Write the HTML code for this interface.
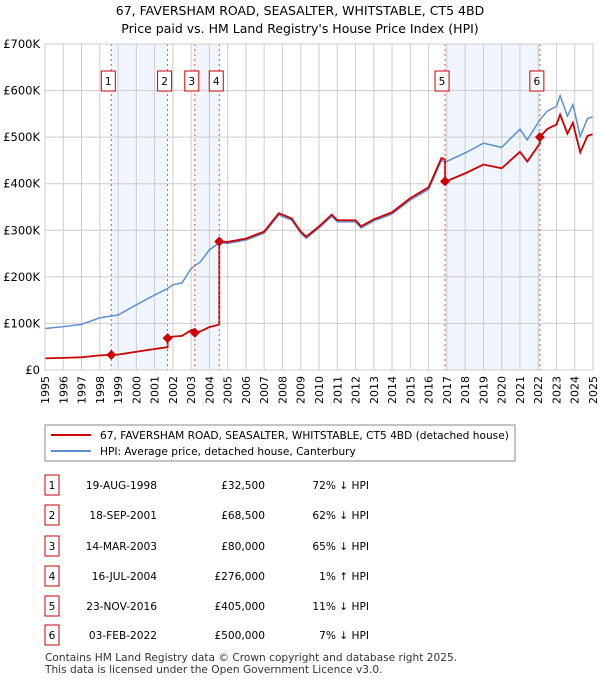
<!DOCTYPE html>
<html><head><meta charset="utf-8"><style>
body{margin:0;background:#fff;font-family:"DejaVu Sans","Liberation Sans",sans-serif;}
svg text{font-family:"DejaVu Sans","Liberation Sans",sans-serif;}
</style></head><body>
<svg id="c" width="600" height="680" viewBox="0 0 600 680" xmlns="http://www.w3.org/2000/svg">
<text x="300" y="15" text-anchor="middle" font-size="12.5">67, FAVERSHAM ROAD, SEASALTER, WHITSTABLE, CT5 4BD</text>
<text x="300" y="33" text-anchor="middle" font-size="12.5">Price paid vs. HM Land Registry's House Price Index (HPI)</text>
<g id="plot"></g>
<rect x="45" y="425" width="470" height="36" fill="#fff" stroke="#888"/>
<g><line x1="51" y1="435" x2="91" y2="435" stroke="#cc0000" stroke-width="2"/><text x="100" y="439" font-size="10.6">67, FAVERSHAM ROAD, SEASALTER, WHITSTABLE, CT5 4BD (detached house)</text></g>
<g><line x1="51" y1="451" x2="91" y2="451" stroke="#5b8fd0" stroke-width="2"/><text x="100" y="455" font-size="10.6">HPI: Average price, detached house, Canterbury</text></g>
<g id="table"></g>
<text x="45" y="661" font-size="10.6" fill="#333">Contains HM Land Registry data © Crown copyright and database right 2025.</text>
<text x="45" y="673" font-size="10.6" fill="#333">This data is licensed under the Open Government Licence v3.0.</text>
</svg>
<script>
const hpiYears=[1995,1996,1997,1998,1998.63,1999,2000,2001,2001.71,2002,2002.5,2003,2003.2,2003.5,2004,2004.54,2005,2006,2007,2007.8,2008.5,2009,2009.3,2010,2010.7,2011,2012,2012.3,2013,2014,2015,2016,2016.7,2016.9,2017,2018,2019,2020,2021,2021.4,2022.09,2022.5,2023,2023.2,2023.6,2023.9,2024.3,2024.7,2025];
const hpiValues=[89,93,98,112,116,118,140,161,175,183,187,218,224,232,258,273,272,279,294,333,322,294,283,305,330,318,318,305,320,335,365,388,450,447,448,466,487,478,517,494,537,556,566,589,545,570,502,540,544];
const saleYears=[1998.63,2001.71,2003.2,2004.54,2016.9,2022.09];
const salePrices=[32.5,68.5,80,276,405,500];
const saleLabels=["1","2","3","4","5","6"];
const saleDates=["19-AUG-1998","18-SEP-2001","14-MAR-2003","16-JUL-2004","23-NOV-2016","03-FEB-2022"];
const salePriceText=["£32,500","£68,500","£80,000","£276,000","£405,000","£500,000"];
const saleHpiText=["72% ↓ HPI","62% ↓ HPI","65% ↓ HPI","1% ↑ HPI","11% ↓ HPI","7% ↓ HPI"];
const yTicks=[0,100,200,300,400,500,600,700];
const yTickLabels=["£0","£100K","£200K","£300K","£400K","£500K","£600K","£700K"];

const NS="http://www.w3.org/2000/svg";
const X0=45,X1=593,Y0=370,Y1=44;
const xs=t=>X0+(t-1995)/30*(X1-X0);
const ys=v=>Y0-v/700*(Y0-Y1);
function mk(tag,attrs,parent){const e=document.createElementNS(NS,tag);for(const k in attrs)e.setAttribute(k,attrs[k]);parent.appendChild(e);return e;}
function hpiAt(t){for(let i=1;i<hpiYears.length;i++){if(t<=hpiYears[i]){const a=hpiYears[i-1],b=hpiYears[i];return hpiValues[i-1]+(hpiValues[i]-hpiValues[i-1])*(t-a)/(b-a);}}return hpiValues[hpiValues.length-1];}
const plot=document.getElementById('plot');
for(let i=0;i+1<saleYears.length;i+=2){
 const r=mk('rect',{x:xs(saleYears[i]),y:Y1,width:xs(saleYears[i+1])-xs(saleYears[i]),height:Y0-Y1,fill:'#eef3fc',opacity:0.8},plot);
 
 
}
for(let y=1995;y<=2025;y++){
 const l=mk('line',{x1:xs(y),x2:xs(y),y1:Y1,y2:Y0,stroke:'#ccc','stroke-width':1},plot);
 
 
 const t=mk('text',{x:0,y:0,'font-size':11,'text-anchor':'end',transform:`translate(${xs(y)+4},376) rotate(-90)`},plot);
 t.textContent=String(y);
 
 
}
yTicks.forEach((v,i)=>{
 const l=mk('line',{x1:X0,x2:X1,y1:ys(v),y2:ys(v),stroke:'#ccc','stroke-width':1},plot);
 
 
 const t=mk('text',{x:40,y:ys(v)+4,'font-size':11.5,'text-anchor':'end'},plot);
 t.textContent=yTickLabels[i];
 
 
});
const hp=mk('polyline',{points:hpiYears.map((t,i)=>xs(t)+','+ys(hpiValues[i])).join(' '),fill:'none',stroke:'#5b8fd0','stroke-width':1.5},plot);


const pts=[];
const times=[...new Set([...hpiYears,...saleYears])].sort((a,b)=>a-b);
times.forEach(t=>{
 let idx=-1;for(let j=0;j<saleYears.length;j++)if(saleYears[j]<=t)idx=j;
 if(saleYears.includes(t)&&idx>0){const p=idx-1;pts.push([t,salePrices[p]*hpiAt(t)/hpiAt(saleYears[p])]);}
 const s=Math.max(idx,0);
 pts.push([t,salePrices[s]*hpiAt(t)/hpiAt(saleYears[s])]);
});
const rl=mk('polyline',{points:pts.map(p=>xs(p[0])+','+ys(p[1])).join(' '),fill:'none',stroke:'#cc0000','stroke-width':1.8},plot);


saleYears.forEach((t,i)=>{
 const l=mk('line',{x1:xs(t),x2:xs(t),y1:Y1,y2:Y0,stroke:'#e05050','stroke-width':1,'stroke-dasharray':'2,3'},plot);
 
 
 const cx=xs(t),cy=ys(salePrices[i]);
 const d=mk('polygon',{points:`${cx},${cy-5} ${cx+5},${cy} ${cx},${cy+5} ${cx-5},${cy}`,fill:'#cc0000'},plot);
 
 
 const g=mk('g',{},plot);
 
 
 mk('rect',{x:cx-10,y:71,width:14,height:20,fill:'#fff',stroke:'#cc0000'},g);
 const tx=mk('text',{x:cx-3,y:85,'font-size':10.6,'text-anchor':'middle'},g);tx.textContent=saleLabels[i];
});
mk('rect',{x:X0,y:Y1,width:X1-X0,height:Y0-Y1,fill:'none',stroke:'#ccc'},plot);
const tb=document.getElementById('table');
const rowY=[485,515,546,576,606,635];
saleLabels.forEach((lab,i)=>{
 const g=mk('g',{},tb);
 
 
 const y=rowY[i];
 mk('rect',{x:45,y:y-10,width:14,height:20,fill:'#fff',stroke:'#cc0000'},g);
 let t=mk('text',{x:52,y:y+4,'font-size':10.6,'text-anchor':'middle'},g);t.textContent=lab;
 t=mk('text',{x:157,y:y+4,'font-size':10.6,'text-anchor':'end'},g);t.textContent=saleDates[i];
 t=mk('text',{x:265,y:y+4,'font-size':10.6,'text-anchor':'end'},g);t.textContent=salePriceText[i];
 t=mk('text',{x:369,y:y+4,'font-size':10.6,'text-anchor':'end'},g);t.textContent=saleHpiText[i];
});
</script>
</body></html>
